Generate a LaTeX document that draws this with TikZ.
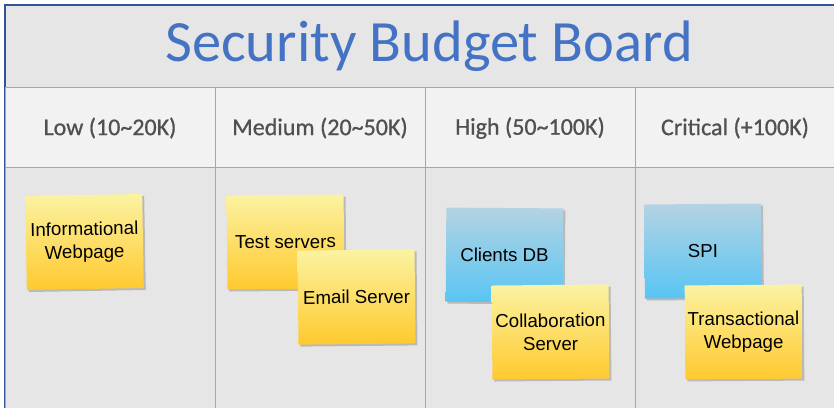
\documentclass[tikz,border=0pt]{standalone}
\usepackage{fontspec}
\setmainfont{Carlito}
\newfontfamily\notefont{Liberation Sans}
\newfontfamily\headfont[FakeBold=0.8]{Carlito}
\usetikzlibrary{shadows}
\definecolor{titlebg}{HTML}{E7E6E6}
\definecolor{headbg}{HTML}{F2F2F2}
\definecolor{bodybg}{HTML}{E7E6E6}
\definecolor{titleblue}{HTML}{4472C4}
\definecolor{borderblue}{HTML}{2F5597}
\definecolor{colblue}{HTML}{8FAADC}
\definecolor{headgray}{HTML}{505050}
\definecolor{linegray}{HTML}{A6A6A6}
\definecolor{yeltop}{HTML}{FBF3A2}
\definecolor{yelbot}{HTML}{FFC92E}
\definecolor{bluetop}{HTML}{B4D3E3}
\definecolor{bluebot}{HTML}{58C5F3}
\tikzset{
  note/.style={minimum width=117pt, minimum height=94pt, inner sep=2pt,
    align=center, font=\notefont\fontsize{18.7}{23}\selectfont, text=black,
    drop shadow={shadow xshift=2pt, shadow yshift=-2pt, opacity=0.35, fill=black!60}},
  yellownote/.style={note, top color=yeltop, bottom color=yelbot},
  bluenote/.style={note, top color=bluetop, bottom color=bluebot},
  headtext/.style={font=\headfont\fontsize{24}{28}\selectfont, text=headgray},
}
\begin{document}
\begin{tikzpicture}[x=1pt,y=-1pt]
\useasboundingbox (0,0) rectangle (834,408);
\fill[white] (0,0) rectangle (834,408);
% bands
\fill[titlebg] (5,5) rectangle (834,87);
\fill[headbg] (5,87) rectangle (834,167);
\fill[bodybg] (5,167) rectangle (834,408);
% lines
\draw[borderblue, line width=1.2pt] (5,408) -- (5,5) -- (834,5);
\draw[linegray, line width=1pt] (5,87) -- (834,87);
\draw[linegray, line width=1pt] (5,167) -- (834,167);
\draw[linegray, line width=0.8pt] (5,87) -- (5,167);
\foreach \x in {215,425,635} {
  \draw[linegray, line width=0.8pt] (\x,87) -- (\x,167);
  \draw[colblue, line width=1pt] (\x,167) -- (\x,408);
}
\draw[colblue, line width=1pt] (5,167) -- (5,408);
% title
\node[font=\fontsize{58.5}{64}\selectfont, text=titleblue] (title) at (429,46) {Security Budget Board};
% headers
\node[headtext] (h1) at (110,128) {Low (10\textasciitilde 20K)};
\node[headtext] (h2) at (320,128) {Medium (20\textasciitilde 50K)};
\node[headtext] (h3) at (530,128) {High (50\textasciitilde 100K)};
\node[headtext] (h4) at (735,128) {Critical (+100K)};
% notes
\node[yellownote, rotate=1] (info) at (84.5,242) {Informational\\Webpage};
\node[yellownote, rotate=0.5] (test) at (285.5,242) {Test servers};
\node[yellownote, rotate=0.6] (email) at (356.5,297) {Email Server};
\node[bluenote, rotate=-0.4] (clients) at (504.5,255) {Clients DB};
\node[yellownote, rotate=0.5] (collab) at (550.5,332) {Collaboration\\Server};
\node[bluenote, rotate=0.5] (spi) at (703,251) {SPI};
\node[yellownote, rotate=0.4] (trans) at (743.5,332) {Transactional\\Webpage};
\end{tikzpicture}
\end{document}
